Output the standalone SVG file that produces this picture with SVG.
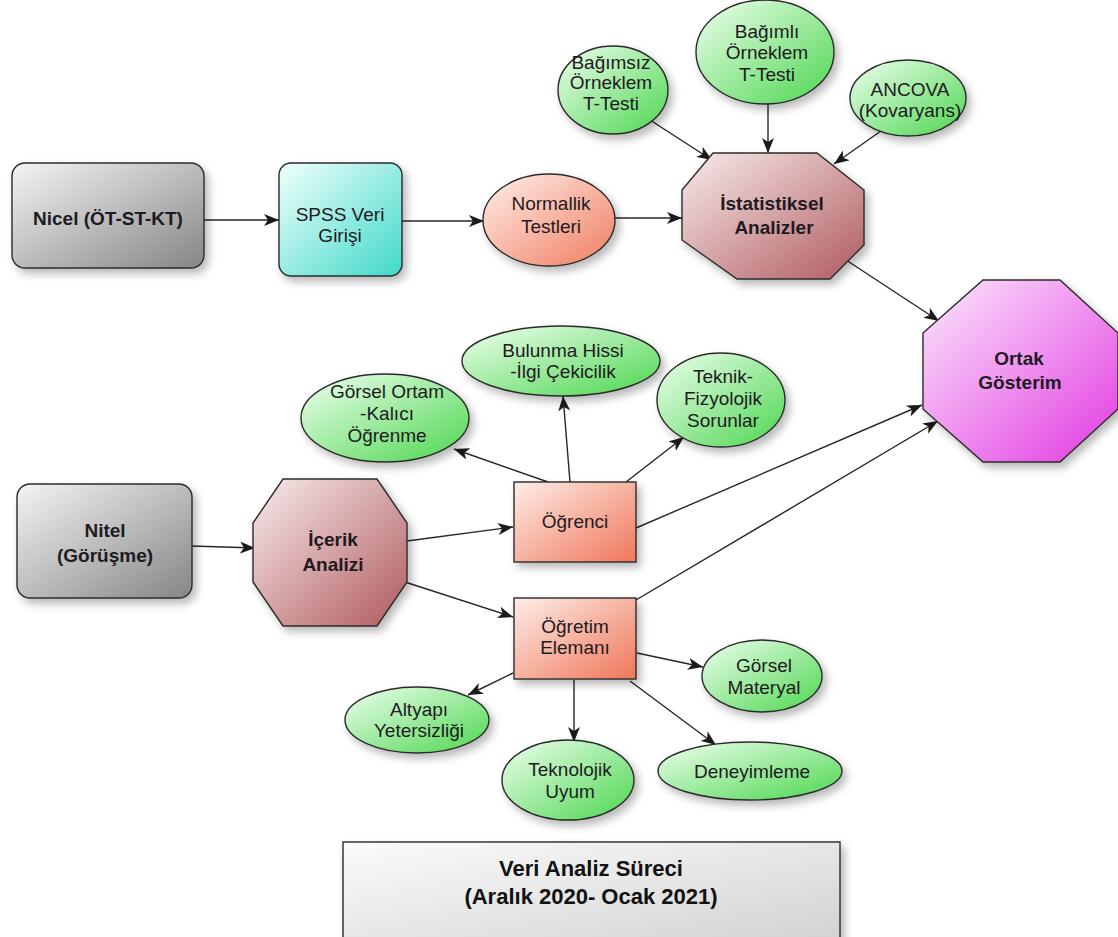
<svg xmlns="http://www.w3.org/2000/svg" width="1118" height="937" viewBox="0 0 1118 937">
  <style>
    text { font-family: "Liberation Sans", Arial, sans-serif; text-anchor: middle; fill: #1e1a22; }
    .t { font-size: 19px; }
    .b { font-size: 19px; font-weight: bold; }
    .title { font-size: 22px; font-weight: bold; fill: #111; }
    .edge { stroke: #262626; stroke-width: 1.4; fill: none; marker-end: url(#arrow); }
    .outline { stroke: #2b2b2b; stroke-width: 1.4; }
  </style>
  <defs>
    <filter id="shadow" x="-20%" y="-20%" width="150%" height="150%">
      <feDropShadow dx="4" dy="5" stdDeviation="4" flood-color="#000" flood-opacity="0.28"/>
    </filter>
    <linearGradient id="gGray" x1="0" y1="0" x2="1" y2="1">
      <stop offset="0" stop-color="#f4f4f4"/>
      <stop offset="1" stop-color="#858585"/>
    </linearGradient>
    <linearGradient id="gCyan" x1="0" y1="0" x2="1" y2="1">
      <stop offset="0" stop-color="#f2fffd"/>
      <stop offset="1" stop-color="#3fd9c8"/>
    </linearGradient>
    <linearGradient id="gSalmon" x1="0" y1="0" x2="1" y2="1">
      <stop offset="0" stop-color="#fff0ea"/>
      <stop offset="1" stop-color="#f07c60"/>
    </linearGradient>
    <linearGradient id="gRose" x1="0" y1="0" x2="1" y2="1">
      <stop offset="0" stop-color="#f8ecec"/>
      <stop offset="1" stop-color="#b05a5e"/>
    </linearGradient>
    <linearGradient id="gMagenta" x1="0" y1="0" x2="1" y2="1">
      <stop offset="0" stop-color="#fce8fc"/>
      <stop offset="1" stop-color="#e23ae2"/>
    </linearGradient>
    <linearGradient id="gGreen" x1="0" y1="0" x2="1" y2="1">
      <stop offset="0" stop-color="#effff0"/>
      <stop offset="1" stop-color="#4cd64e"/>
    </linearGradient>
    <linearGradient id="gPeach" x1="0" y1="0" x2="1" y2="1">
      <stop offset="0" stop-color="#fdeee8"/>
      <stop offset="1" stop-color="#f0765a"/>
    </linearGradient>
    <linearGradient id="gLight" x1="0" y1="0" x2="1" y2="1">
      <stop offset="0" stop-color="#fbfbfb"/>
      <stop offset="1" stop-color="#d2d2d2"/>
    </linearGradient>
    <marker id="arrow" markerUnits="userSpaceOnUse" markerWidth="16" markerHeight="12" refX="15" refY="6" orient="auto">
      <path d="M0,0 L15,6 L0,12 L4,6 z" fill="#1a1a1a"/>
    </marker>
  </defs>

  <rect width="1118" height="937" fill="#ffffff"/>

  <!-- connectors -->
  <g id="connectors">
    <line class="edge" x1="204" y1="220" x2="279" y2="220"/>
    <line class="edge" x1="402" y1="221" x2="484" y2="221"/>
    <line class="edge" x1="614" y1="218" x2="682" y2="218"/>
    <line class="edge" x1="650" y1="120" x2="712" y2="160"/>
    <line class="edge" x1="768" y1="104" x2="768" y2="153"/>
    <line class="edge" x1="888" y1="126" x2="834" y2="164"/>
    <line class="edge" x1="843" y1="258" x2="939" y2="321"/>
    <line class="edge" x1="636" y1="528" x2="922" y2="405"/>
    <line class="edge" x1="636" y1="600" x2="938" y2="421"/>
    <line class="edge" x1="192" y1="546" x2="255" y2="548"/>
    <line class="edge" x1="407" y1="541" x2="513" y2="527"/>
    <line class="edge" x1="405" y1="582" x2="513" y2="617"/>
    <line class="edge" x1="548" y1="482" x2="454" y2="449"/>
    <line class="edge" x1="570" y1="482" x2="563" y2="396"/>
    <line class="edge" x1="626" y1="482" x2="684" y2="437"/>
    <line class="edge" x1="513" y1="673" x2="468" y2="695"/>
    <line class="edge" x1="574" y1="680" x2="574" y2="742"/>
    <line class="edge" x1="637" y1="653" x2="703" y2="667"/>
    <line class="edge" x1="630" y1="681" x2="716" y2="745"/>
  </g>

  <!-- quantitative branch -->
  <g id="nicel">
    <rect x="12" y="163" width="192" height="105" rx="13" fill="url(#gGray)" class="outline" filter="url(#shadow)"/>
    <text class="b" x="108" y="225">Nicel (ÖT-ST-KT)</text>
  </g>
  <g id="spss">
    <rect x="279" y="163" width="123" height="113" rx="12" fill="url(#gCyan)" class="outline" filter="url(#shadow)"/>
    <text class="t" x="340" y="221">SPSS Veri</text>
    <text class="t" x="340" y="242">Girişi</text>
  </g>
  <g id="normallik">
    <ellipse cx="549" cy="220" rx="66" ry="46" fill="url(#gSalmon)" class="outline" filter="url(#shadow)"/>
    <text class="t" x="551" y="210">Normallik</text>
    <text class="t" x="551" y="233">Testleri</text>
  </g>
  <g id="istatistiksel">
    <polygon points="713,153 817,153 864,190 864,245 830,279 737,279 682,240 682,190" fill="url(#gRose)" class="outline" filter="url(#shadow)"/>
    <text class="b" x="772" y="210">İstatistiksel</text>
    <text class="b" x="774" y="234">Analizler</text>
  </g>
  <g id="bagimsiz">
    <ellipse cx="613" cy="90" rx="55" ry="44" fill="url(#gGreen)" class="outline" filter="url(#shadow)"/>
    <text class="t" x="611" y="69">Bağımsız</text>
    <text class="t" x="611" y="89">Örneklem</text>
    <text class="t" x="611" y="110">T-Testi</text>
  </g>
  <g id="bagimli">
    <ellipse cx="765" cy="52" rx="69" ry="52" fill="url(#gGreen)" class="outline" filter="url(#shadow)"/>
    <text class="t" x="767" y="38">Bağımlı</text>
    <text class="t" x="767" y="59">Örneklem</text>
    <text class="t" x="767" y="81">T-Testi</text>
  </g>
  <g id="ancova">
    <ellipse cx="908" cy="98" rx="58" ry="38" fill="url(#gGreen)" class="outline" filter="url(#shadow)"/>
    <text class="t" x="910" y="96">ANCOVA</text>
    <text class="t" x="910" y="117">(Kovaryans)</text>
  </g>

  <!-- shared output -->
  <g id="ortak">
    <polygon points="983,280 1060,280 1118,333 1118,409 1060,462 983,462 923,409 923,333" fill="url(#gMagenta)" class="outline" filter="url(#shadow)"/>
    <text class="b" x="1019" y="365">Ortak</text>
    <text class="b" x="1020" y="389">Gösterim</text>
  </g>

  <!-- qualitative branch -->
  <g id="nitel">
    <rect x="17" y="484" width="175" height="114" rx="13" fill="url(#gGray)" class="outline" filter="url(#shadow)"/>
    <text class="b" x="105" y="537">Nitel</text>
    <text class="b" x="105" y="562">(Görüşme)</text>
  </g>
  <g id="icerik">
    <polygon points="283,479 377,479 407,523 407,582 377,626 283,626 253,582 253,523" fill="url(#gRose)" class="outline" filter="url(#shadow)"/>
    <text class="b" x="333" y="546">İçerik</text>
    <text class="b" x="333" y="571">Analizi</text>
  </g>
  <g id="ogrenci">
    <rect x="514" y="482" width="122" height="80" fill="url(#gPeach)" class="outline" filter="url(#shadow)"/>
    <text class="t" x="575" y="528">Öğrenci</text>
  </g>
  <g id="gorsel-ortam">
    <ellipse cx="385" cy="418" rx="84" ry="44" fill="url(#gGreen)" class="outline" filter="url(#shadow)"/>
    <text class="t" x="387" y="398">Görsel Ortam</text>
    <text class="t" x="387" y="420">-Kalıcı</text>
    <text class="t" x="387" y="442">Öğrenme</text>
  </g>
  <g id="bulunma">
    <ellipse cx="561" cy="361" rx="99" ry="35" fill="url(#gGreen)" class="outline" filter="url(#shadow)"/>
    <text class="t" x="563" y="357">Bulunma Hissi</text>
    <text class="t" x="563" y="378">-İlgi Çekicilik</text>
  </g>
  <g id="teknik">
    <ellipse cx="721" cy="400" rx="64" ry="47" fill="url(#gGreen)" class="outline" filter="url(#shadow)"/>
    <text class="t" x="723" y="383">Teknik-</text>
    <text class="t" x="723" y="405">Fizyolojik</text>
    <text class="t" x="723" y="427">Sorunlar</text>
  </g>
  <g id="ogretim">
    <rect x="514" y="598" width="122" height="81" fill="url(#gPeach)" class="outline" filter="url(#shadow)"/>
    <text class="t" x="575" y="633">Öğretim</text>
    <text class="t" x="575" y="654">Elemanı</text>
  </g>
  <g id="gorsel-materyal">
    <ellipse cx="762" cy="676" rx="60" ry="36" fill="url(#gGreen)" class="outline" filter="url(#shadow)"/>
    <text class="t" x="764" y="672">Görsel</text>
    <text class="t" x="764" y="694">Materyal</text>
  </g>
  <g id="altyapi">
    <ellipse cx="417" cy="720" rx="72" ry="33" fill="url(#gGreen)" class="outline" filter="url(#shadow)"/>
    <text class="t" x="419" y="716">Altyapı</text>
    <text class="t" x="419" y="737">Yetersizliği</text>
  </g>
  <g id="teknolojik">
    <ellipse cx="568" cy="780" rx="66" ry="40" fill="url(#gGreen)" class="outline" filter="url(#shadow)"/>
    <text class="t" x="570" y="776">Teknolojik</text>
    <text class="t" x="570" y="798">Uyum</text>
  </g>
  <g id="deneyimleme">
    <ellipse cx="750" cy="771" rx="92" ry="29" fill="url(#gGreen)" class="outline" filter="url(#shadow)"/>
    <text class="t" x="752" y="778">Deneyimleme</text>
  </g>

  <!-- caption box -->
  <g id="baslik">
    <rect x="343" y="842" width="497" height="100" fill="url(#gLight)" class="outline" filter="url(#shadow)"/>
    <text class="title" x="591" y="876">Veri Analiz Süreci</text>
    <text class="title" x="591" y="904">(Aralık 2020- Ocak 2021)</text>
  </g>
</svg>
